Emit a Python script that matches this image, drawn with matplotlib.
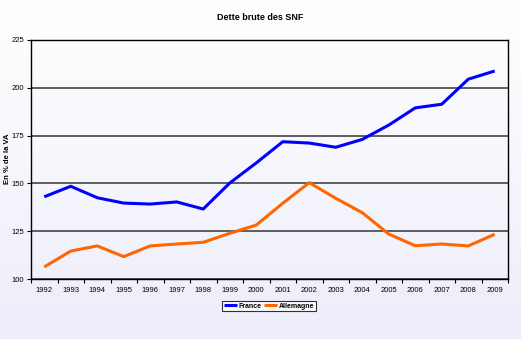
import numpy as np
import matplotlib.pyplot as plt

plt.rcParams["font.family"] = ["Liberation Sans", "DejaVu Sans"]

years = [str(y) for y in range(1992, 2010)]
france = [143, 148.5, 142.5, 139.7, 139.2, 140.3, 136.6, 150.2, 160.7, 171.8,
          171.1, 168.9, 173.0, 180.5, 189.5, 191.4, 204.5, 208.8]
allemagne = [106.3, 114.6, 117.3, 111.7, 117.3, 118.3, 119.2, 123.9, 128.2, 139.6,
             150.4, 142.2, 134.7, 123.5, 117.4, 118.3, 117.3, 123.4]
yticks = [100, 125, 150, 175, 200, 225]

fig = plt.figure(figsize=(5.21, 3.39), dpi=100)

# background gradient over the whole figure
bg = fig.add_axes([0, 0, 1, 1], zorder=-10)
grad = np.linspace(0, 1, 256).reshape(-1, 1)
top = np.array([1.0, 1.0, 1.0])
bottom = np.array([0.93, 0.93, 0.98])
img = top + (bottom - top) * grad[:, :, None]
bg.imshow(img, aspect="auto", extent=[0, 1, 0, 1], origin="upper")
bg.set_axis_off()

ax = fig.add_axes([31 / 521, 1 - 279 / 339, 477 / 521, 239 / 339])
ax.patch.set_alpha(0)
x = np.arange(len(years))
ax.plot(x, france, color="#0000ff", lw=2.2, label="France", solid_capstyle="butt")
ax.plot(x, allemagne, color="#ff6600", lw=2.2, label="Allemagne", solid_capstyle="butt")

ax.set_xlim(-0.5, len(years) - 0.5)
ax.set_ylim(100, 225)
ax.set_yticks(yticks)
ax.set_yticklabels([str(v) for v in yticks], fontsize=5.5)
ax.set_xticks(x)
ax.set_xticklabels(years, fontsize=5.5)
ax.set_xticks(np.arange(len(years) + 1) - 0.5, minor=True)
ax.tick_params(axis="x", which="major", length=0, pad=6)
ax.tick_params(axis="x", which="minor", length=3, width=0.8)
ax.tick_params(axis="y", length=3, width=0.8, pad=2)
ax.grid(axis="y", color="#444444", lw=1.2)
ax.set_axisbelow(True)
for s in ax.spines.values():
    s.set_linewidth(1.0)

fig.text(8 / 521, 1 - 159 / 339, "En % de la VA", rotation=90, ha="center",
         va="center", fontsize=5.5, fontweight="bold")
fig.text(0.5, 1 - 17 / 339, "Dette brute des SNF", ha="center", va="center",
         fontsize=6.5, fontweight="bold")

leg = fig.legend(loc="center", bbox_to_anchor=(269 / 521, 1 - 306 / 339), ncol=2,
                 frameon=True, fancybox=False, edgecolor="black",
                 handlelength=1.8, handletextpad=0.2, columnspacing=0.5,
                 borderpad=0.25, prop={"weight": "bold", "size": 5})
leg.get_frame().set_linewidth(0.8)

fig.savefig("out.png", dpi=100)
